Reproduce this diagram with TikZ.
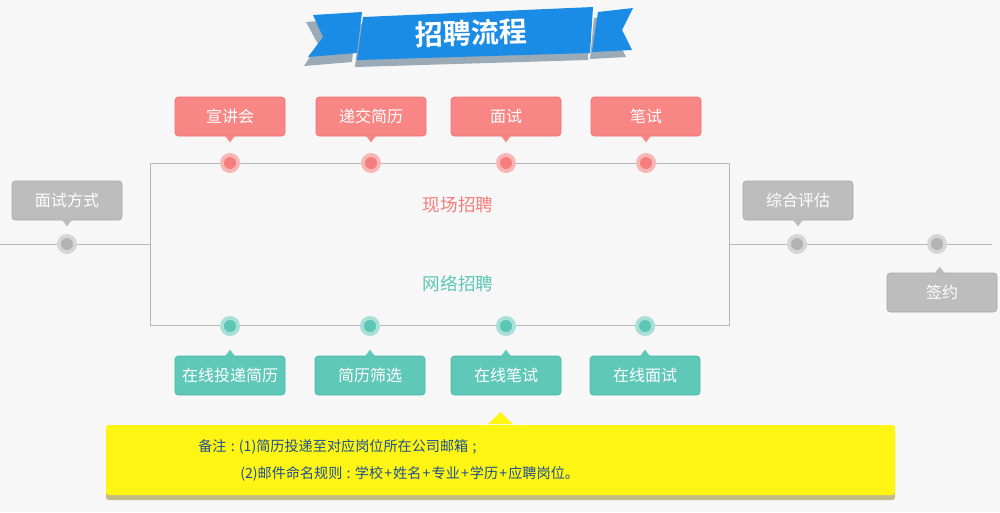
\documentclass[tikz,border=0pt]{standalone}
\usepackage{fontspec}
\newfontfamily\cjk{Noto Sans CJK SC}
\newfontfamily\cjkb{Noto Sans CJK SC Bold}
\definecolor{bg}{HTML}{F7F7F7}
\definecolor{pinkbox}{HTML}{F88684}
\definecolor{pinkline}{HTML}{EF7373}
\definecolor{pinkring}{HTML}{F8B7B6}
\definecolor{pinkdot}{HTML}{F67D7D}
\definecolor{tealbox}{HTML}{60C8B8}
\definecolor{tealline}{HTML}{45BBA8}
\definecolor{tealring}{HTML}{A8E0D7}
\definecolor{tealdot}{HTML}{5CC7B6}
\definecolor{graybox}{HTML}{BDBDBD}
\definecolor{grayline}{HTML}{AAAAAA}
\definecolor{grayring}{HTML}{D6D6D6}
\definecolor{graydot}{HTML}{B3B3B3}
\definecolor{frameline}{HTML}{B8B8B8}
\definecolor{ribbon}{HTML}{1A8CE6}
\definecolor{ribbonsh}{HTML}{9AAAB7}
\definecolor{notey}{HTML}{FEF512}
\definecolor{notesh}{HTML}{C4BC86}
\definecolor{notetext}{HTML}{1E4F93}
\begin{document}
\begin{tikzpicture}[x=0.75pt,y=-0.75pt,
  callout/.style={rounded corners=2.5pt,minimum width=82.5pt,minimum height=29.25pt,
    inner sep=0pt,text=white,font=\cjk\fontsize{12}{14}\selectfont},
  pinkcall/.style={callout,fill=pinkbox,draw=pinkline,line width=0.5pt},
  tealcall/.style={callout,fill=tealbox,draw=tealline,line width=0.5pt},
  graycall/.style={callout,fill=graybox,draw=grayline,line width=0.5pt},
  ring/.style={circle,minimum size=15pt,inner sep=0pt},
  core/.style={circle,minimum size=9pt,inner sep=0pt},
  notefont/.style={anchor=west,text=notetext,font=\cjk\fontsize{10.6}{12}\selectfont,inner sep=0pt},
  timeline/.style={draw=frameline,line width=0.75pt}]
\useasboundingbox (0,0) rectangle (1000,512);
\fill[bg] (0,0) rectangle (1000,512);

% ---- ribbon banner ----
\fill[ribbonsh] (306,22) -- (356,18) -- (352,62) -- (304,66) -- (318,44) -- cycle;
\fill[ribbonsh] (594,18) -- (628,15) -- (616,36) -- (626,57) -- (590,59) -- cycle;
\fill[ribbonsh] (360,24) -- (590,14) -- (588,60) -- (355,67) -- cycle;
\fill[ribbon] (313,15) -- (362,12) -- (357,53) -- (308,57) -- (323,37) -- cycle;
\fill[ribbon] (598,12) -- (633,8) -- (622,30) -- (632,50) -- (592,52) -- cycle;
\fill[ribbon] (363,17) -- (593,7) -- (590,53) -- (357,60) -- cycle;
\node[text=white,font=\cjkb\fontsize{21}{24}\selectfont,rotate=1.5] (title) at (471,33) {招聘流程};

% ---- frame and timelines ----
\node[draw=frameline,line width=0.75pt,minimum width=434.25pt,minimum height=121.5pt,inner sep=0pt] (frame) at (439.5,244) {};
\coordinate (lstart) at (0,244);
\coordinate (rend) at (992,244);
\draw[timeline] (lstart) -- (frame.west);
\draw[timeline] (frame.east) -- (rend);

\node[text=pinkdot,font=\cjk\fontsize{13.2}{15}\selectfont] (xc) at (458,205) {现场招聘};
\node[text=tealdot,font=\cjk\fontsize{13.2}{15}\selectfont] (wl) at (458,284) {网络招聘};

% ---- pink (top) ----
\foreach \x/\t/\n in {230/宣讲会/p1,371/递交简历/p2,506/面试/p3,646/笔试/p4}{
  \node[ring,fill=pinkring] (\n r) at (\x,163) {};
  \node[core,fill=pinkdot] (\n d) at (\x,163) {};
  \node[pinkcall] (\n) at (\x,116.5) {\t};
  \fill[pinkbox] ([xshift=-3.75pt,yshift=0.4pt]\n.south) -- ([xshift=3.75pt,yshift=0.4pt]\n.south) -- ([yshift=-4.5pt]\n.south) -- cycle;
}
% ---- teal (bottom) ----
\foreach \x/\t/\n in {230/在线投递简历/t1,370/简历筛选/t2,506/在线笔试/t3,645/在线面试/t4}{
  \node[ring,fill=tealring] (\n r) at (\x,326) {};
  \node[core,fill=tealdot] (\n d) at (\x,326) {};
  \node[tealcall] (\n) at (\x,375.5) {\t};
  \fill[tealbox] ([xshift=-3.75pt,yshift=-0.4pt]\n.north) -- ([xshift=3.75pt,yshift=-0.4pt]\n.north) -- ([yshift=4.5pt]\n.north) -- cycle;
}
% ---- gray ----
\foreach \x/\n in {67/g1,797/g2,937/g3}{
  \node[ring,fill=grayring] (\n r) at (\x,244) {};
  \node[core,fill=graydot] (\n d) at (\x,244) {};
}
\node[graycall] (c1) at (67,200.5) {面试方式};
\fill[graybox] ([xshift=-3.75pt,yshift=0.4pt]c1.south) -- ([xshift=3.75pt,yshift=0.4pt]c1.south) -- ([yshift=-4.5pt]c1.south) -- cycle;
\node[graycall] (c2) at (798,200.5) {综合评估};
\fill[graybox] ([xshift=-3.75pt,yshift=0.4pt]c2.south) -- ([xshift=3.75pt,yshift=0.4pt]c2.south) -- ([yshift=-4.5pt]c2.south) -- cycle;
\node[graycall] (c3) at (942,292.5) {签约};
\fill[graybox] ([xshift=-5.5pt,yshift=-0.4pt]c3.north) -- ([xshift=2pt,yshift=-0.4pt]c3.north) -- ([xshift=-1.75pt,yshift=4.5pt]c3.north) -- cycle;

% ---- note ----
\fill[notesh,rounded corners=2pt] (106,431) rectangle (895,500);
\node[fill=notey,rounded corners=2pt,minimum width=591.75pt,minimum height=52.5pt,inner sep=0pt] (note) at (500.5,460) {};
\fill[notey] ([xshift=-9.4pt,yshift=0.4pt]note.north) -- ([xshift=9.4pt,yshift=0.4pt]note.north) -- ([yshift=9.4pt]note.north) -- cycle;
\node[notefont] (n1) at (198,447) {备注\hspace{0.3em}:\hspace{0.3em}(1)简历投递至对应岗位所在公司邮箱\hspace{0.3em};};
\node[notefont] (n2) at (240,474) {(2)邮件命名规则\hspace{0.3em}:\hspace{0.3em}学校\hspace{0.08em}+\hspace{0.08em}姓名\hspace{0.08em}+\hspace{0.08em}专业\hspace{0.08em}+\hspace{0.08em}学历\hspace{0.08em}+\hspace{0.08em}应聘岗位。};
\end{tikzpicture}
\end{document}
